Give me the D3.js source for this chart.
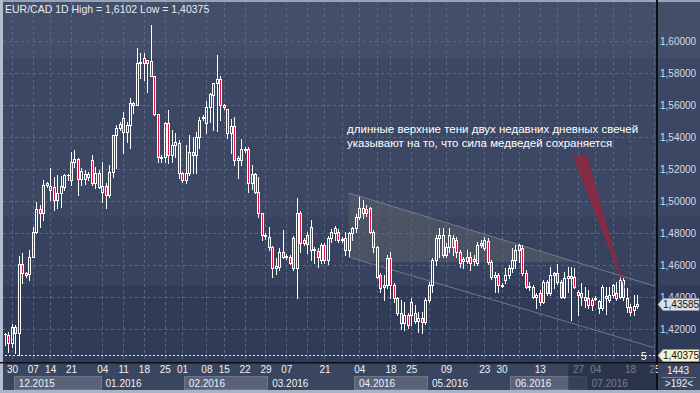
<!DOCTYPE html>
<html><head><meta charset="utf-8">
<script src="https://cdnjs.cloudflare.com/ajax/libs/d3/7.8.5/d3.min.js"></script>
<style>
html,body{margin:0;padding:0;background:#2f3b57;overflow:hidden;}
svg{display:block;}
text{font-family:"Liberation Sans",Arial,sans-serif;}
</style></head><body>
<svg id="chart" width="700" height="393"></svg>
<script>
const chartTitle = "EUR/CAD 1D High = 1,6102 Low = 1,40375";

const openP = [
1.4169,1.4163,1.4113,1.4213,1.4175,1.4606,1.4550,1.4544,1.4650,1.4806,
1.4950,1.4925,1.5113,1.5069,1.5088,1.5006,1.5050,1.5088,1.5163,1.5131,
1.5244,1.5263,1.5138,1.5169,1.5150,1.5256,1.5113,1.5175,1.5056,1.5094,
1.5038,1.5181,1.5413,1.5456,1.5519,1.5431,1.5475,1.5613,1.5600,1.5863,
1.5894,1.5863,1.5875,1.5781,1.5544,1.5269,1.5275,1.5488,1.5288,1.5350,
1.5363,1.5175,1.5131,1.5175,1.5306,1.5288,1.5400,1.5519,1.5488,1.5588,
1.5663,1.5738,1.5763,1.5600,1.5575,1.5425,1.5469,1.5256,1.5256,1.5319,
1.5325,1.5113,1.5169,1.5056,1.4925,1.4781,1.4775,1.4713,1.4581,1.4588,
1.4681,1.4650,1.4650,1.4769,1.4581,1.4925,1.4756,1.4731,1.4838,1.4694,
1.4688,1.4631,1.4725,1.4631,1.4769,1.4800,1.4806,1.4763,1.4769,1.4694,
1.4800,1.4831,1.4900,1.4956,1.4950,1.4956,1.4806,1.4713,1.4538,1.4463,
1.4475,1.4644,1.4475,1.4394,1.4300,1.4238,1.4288,1.4288,1.4300,1.4250,
1.4269,1.4244,1.4381,1.4475,1.4631,1.4769,1.4788,1.4663,1.4713,1.4769,
1.4756,1.4681,1.4625,1.4625,1.4650,1.4625,1.4613,1.4725,1.4706,1.4750,
1.4619,1.4525,1.4538,1.4469,1.4506,1.4538,1.4581,1.4631,1.4694,1.4706,
1.4550,1.4463,1.4463,1.4400,1.4425,1.4369,1.4494,1.4425,1.4538,1.4550,
1.4494,1.4400,1.4519,1.4519,1.4525,1.4431,1.4425,1.4400,1.4394,1.4381,
1.4388,1.4375,1.4331,1.4394,1.4381,1.4413,1.4425,1.4400,1.4506,1.4394,
1.4338,1.4319,1.4344];

const highP = [
1.4175,1.4181,1.4231,1.4225,1.4656,1.4675,1.4556,1.4694,1.4838,1.4994,
1.4975,1.5131,1.5119,1.5206,1.5150,1.5163,1.5156,1.5169,1.5169,1.5306,
1.5319,1.5269,1.5206,1.5194,1.5181,1.5288,1.5213,1.5194,1.5244,1.5113,
1.5225,1.5413,1.5475,1.5494,1.5556,1.5494,1.5644,1.5619,1.5956,1.5925,
1.5925,1.5881,1.6102,1.5781,1.5544,1.5288,1.5494,1.5569,1.5444,1.5425,
1.5381,1.5181,1.5350,1.5413,1.5400,1.5431,1.5525,1.5538,1.5625,1.5675,
1.5738,1.5913,1.5781,1.5606,1.5575,1.5513,1.5525,1.5281,1.5388,1.5338,
1.5338,1.5225,1.5175,1.5150,1.4925,1.4800,1.4838,1.4719,1.4644,1.4706,
1.4819,1.4669,1.4663,1.4781,1.5019,1.4938,1.4769,1.4806,1.4881,1.4713,
1.4706,1.4738,1.4738,1.4781,1.4825,1.4844,1.4825,1.4775,1.4806,1.4806,
1.4838,1.4919,1.5025,1.5006,1.4975,1.4963,1.4819,1.4719,1.4550,1.4538,
1.4663,1.4681,1.4488,1.4400,1.4381,1.4369,1.4300,1.4394,1.4350,1.4306,
1.4306,1.4394,1.4494,1.4644,1.4788,1.4831,1.4831,1.4738,1.4831,1.4788,
1.4775,1.4694,1.4650,1.4694,1.4681,1.4663,1.4744,1.4756,1.4775,1.4769,
1.4631,1.4556,1.4550,1.4488,1.4581,1.4600,1.4706,1.4725,1.4731,1.4725,
1.4569,1.4494,1.4475,1.4425,1.4444,1.4506,1.4506,1.4588,1.4556,1.4606,
1.4506,1.4556,1.4588,1.4588,1.4581,1.4444,1.4488,1.4463,1.4444,1.4394,
1.4406,1.4381,1.4475,1.4463,1.4463,1.4481,1.4494,1.4538,1.4519,1.4456,
1.4356,1.4413,1.4413];

const lowP = [
1.4100,1.4056,1.4088,1.4050,1.40375,1.4488,1.4525,1.4506,1.4650,1.4800,
1.4838,1.4881,1.5088,1.5006,1.4944,1.4956,1.4963,1.5069,1.5131,1.5100,
1.5213,1.5038,1.5100,1.5106,1.5131,1.5100,1.5081,1.5081,1.4994,1.4956,
1.5025,1.5150,1.5206,1.5444,1.5300,1.5369,1.5331,1.5550,1.5600,1.5769,
1.5756,1.5681,1.5781,1.5538,1.5244,1.5244,1.5244,1.5238,1.5244,1.5275,
1.5144,1.5119,1.5113,1.5163,1.5175,1.5175,1.5331,1.5506,1.5425,1.5494,
1.5444,1.5438,1.5506,1.5575,1.5394,1.5300,1.5225,1.5144,1.5225,1.5306,
1.5056,1.5075,1.5050,1.4900,1.4756,1.4763,1.4694,1.4525,1.4544,1.4569,
1.4644,1.4638,1.4606,1.4569,1.4394,1.4681,1.4725,1.4675,1.4631,1.4613,
1.4588,1.4613,1.4613,1.4606,1.4744,1.4756,1.4744,1.4744,1.4663,1.4656,
1.4756,1.4806,1.4888,1.4894,1.4906,1.4800,1.4681,1.4519,1.4431,1.4381,
1.4456,1.4394,1.4369,1.4288,1.4200,1.4194,1.4206,1.4225,1.4238,1.4181,
1.4175,1.4231,1.4369,1.4431,1.4600,1.4650,1.4650,1.4650,1.4681,1.4663,
1.4650,1.4588,1.4581,1.4613,1.4569,1.4600,1.4600,1.4713,1.4694,1.4606,
1.4513,1.4431,1.4431,1.4463,1.4488,1.4519,1.4556,1.4581,1.4619,1.4538,
1.4456,1.4444,1.4394,1.4331,1.4350,1.4363,1.4413,1.4413,1.4456,1.4481,
1.4394,1.4394,1.4431,1.4256,1.4456,1.4288,1.4350,1.4338,1.4331,1.4319,
1.4381,1.4300,1.4319,1.4294,1.4369,1.4400,1.4381,1.4394,1.4381,1.4306,
1.4288,1.4288,1.4331];

const closeP = [
1.4169,1.4113,1.4213,1.4175,1.4606,1.4550,1.4538,1.4650,1.4806,1.4950,
1.4925,1.5100,1.5100,1.5094,1.5006,1.5050,1.5094,1.5163,1.5163,1.5244,
1.5263,1.5138,1.5188,1.5138,1.5169,1.5113,1.5175,1.5088,1.5094,1.5038,
1.5181,1.5413,1.5456,1.5481,1.5431,1.5475,1.5613,1.5600,1.5863,1.5869,
1.5863,1.5881,1.5781,1.5544,1.5275,1.5275,1.5488,1.5288,1.5350,1.5369,
1.5175,1.5131,1.5175,1.5306,1.5288,1.5400,1.5506,1.5525,1.5588,1.5669,
1.5738,1.5763,1.5600,1.5588,1.5425,1.5469,1.5256,1.5269,1.5325,1.5325,
1.5113,1.5169,1.5056,1.4925,1.4788,1.4788,1.4713,1.4581,1.4594,1.4681,
1.4650,1.4656,1.4613,1.4581,1.4925,1.4738,1.4738,1.4788,1.4694,1.4700,
1.4650,1.4725,1.4631,1.4769,1.4806,1.4831,1.4756,1.4756,1.4694,1.4800,
1.4831,1.4900,1.4956,1.4925,1.4925,1.4806,1.4713,1.4525,1.4456,1.4475,
1.4644,1.4475,1.4394,1.4300,1.4238,1.4288,1.4225,1.4369,1.4250,1.4269,
1.4244,1.4381,1.4475,1.4631,1.4769,1.4788,1.4663,1.4713,1.4788,1.4713,
1.4681,1.4613,1.4638,1.4650,1.4613,1.4638,1.4725,1.4738,1.4756,1.4619,
1.4525,1.4538,1.4475,1.4475,1.4538,1.4581,1.4631,1.4694,1.4725,1.4550,
1.4463,1.4469,1.4400,1.4413,1.4369,1.4494,1.4425,1.4538,1.4550,1.4494,
1.4400,1.4519,1.4531,1.4531,1.4463,1.4413,1.4400,1.4381,1.4350,1.4350,
1.4394,1.4331,1.4463,1.4406,1.4413,1.4475,1.4394,1.4506,1.4400,1.4338,
1.4306,1.4344,1.43585];

const priceTicks = [1.42,1.44,1.46,1.48,1.50,1.52,1.54,1.56,1.58,1.60];

const weekTickLabels = ["30","07","14","21","04","11","18","25","01","08","15","22","29","07","21","04","18","25","09","23","30","13","27","04","18","25"];
const weekTickIndex  = [2,8,13,19,28,34,40,46,51,58,63,69,75,81,92,102,111,117,127,138,143,154,165,170,180,187];
const gridOnlyIndex  = [87,97,107,122,133,148,159,175];

const monthLabels = ["12.2015","01.2016","02.2016","03.2016","04.2016","05.2016","06.2016","07.2016"];
const monthStart  = [3,28,52,76,101,122,146,168];
const monthEnd    = 190;
const fadedFromIndex = 162.2;

const lastPrice = 1.43585;
const lowPrice = 1.40375;
const barsCount = "1443";
const barsShown = ">192<";

const channelIndex  = [99, 187];
const channelTop    = [1.5050, 1.4469];
const channelBottom = [1.4650, 1.4083];
const channelFillFloor = 1.4619;

const pointerIndex = [163.5, 167.5, 179];
const pointerPrice = [1.5275, 1.5294, 1.4425];

const noteLines = ["длинные верхние тени двух недавних дневных свечей","указывают на то, что сила медведей сохраняется"];
const noteIndex = 98.5, notePrice = 1.5425;

// ---------------------------------------------------------------
const N = openP.length;
const svg = d3.select("#chart");
const x = d3.scaleLinear().domain([0, N - 1]).range([5, 637]);
const y = d3.scaleLinear().domain([1.40, 1.60]).range([361, 41]);
const PR = 657, PB = 362;

// background bands
[[0,58,"#434f69"],[58,217,"#3b4763"],[217,285,"#36425e"],[285,PB,"#2f3b57"]].forEach(b=>{
  svg.append("rect").attr("x",0).attr("y",b[0]).attr("width",700).attr("height",b[1]-b[0]).attr("fill",b[2]);
});
svg.append("rect").attr("x",0).attr("y",PB).attr("width",700).attr("height",393-PB).attr("fill","#3a4660");

const clip = svg.append("defs").append("clipPath").attr("id","plotclip");
clip.append("rect").attr("x",3).attr("y",2).attr("width",PR-3).attr("height",PB-2);

// grid
const grid = svg.append("g").attr("shape-rendering","crispEdges");
priceTicks.forEach(p=>{
  const yy = Math.round(y(p))+0.5;
  grid.append("line").attr("x1",3).attr("x2",PR).attr("y1",yy).attr("y2",yy)
    .attr("stroke","#5a6682").attr("stroke-dasharray","3,3");
});
weekTickIndex.concat(gridOnlyIndex).forEach(i=>{
  const xx = Math.round(x(i))+0.5;
  if (xx > PR) return;
  grid.append("line").attr("x1",xx).attr("x2",xx).attr("y1",2).attr("y2",PB)
    .attr("stroke","#5a6682").attr("stroke-dasharray","3,3");
});

const plot = svg.append("g").attr("clip-path","url(#plotclip)");

// channel fill (shaded)
const cx0 = x(channelIndex[0]), cx1 = x(channelIndex[1]);
const topAt = xx => y(channelTop[0]) + (y(channelTop[1]) - y(channelTop[0])) * (xx - cx0) / (cx1 - cx0);
const botAt = xx => y(channelBottom[0]) + (y(channelBottom[1]) - y(channelBottom[0])) * (xx - cx0) / (cx1 - cx0);
const floorY = y(channelFillFloor);
const xTopHit = cx0 + (floorY - y(channelTop[0])) * (cx1 - cx0) / (y(channelTop[1]) - y(channelTop[0]));
const xBotHit = cx0 + (floorY - y(channelBottom[0])) * (cx1 - cx0) / (y(channelBottom[1]) - y(channelBottom[0]));
plot.append("polygon")
  .attr("points", [[cx0, topAt(cx0)],[xTopHit, floorY],[Math.max(cx0,xBotHit), floorY],[cx0, botAt(cx0)]].map(p=>p.join(",")).join(" "))
  .attr("fill","#686a6e").attr("fill-opacity",0.42);
[[channelTop],[channelBottom]].forEach(c=>{
  plot.append("line").attr("x1",cx0).attr("y1",y(c[0][0])).attr("x2",cx1).attr("y2",y(c[0][1]))
    .attr("stroke","#8a909c").attr("stroke-width",1).attr("stroke-opacity",0.7);
});

// low dotted line
const lowY = Math.round(y(lowPrice))+0.5;
svg.append("line").attr("x1",5).attr("x2",PR).attr("y1",lowY).attr("y2",lowY)
  .attr("stroke","#e8e8e8").attr("stroke-dasharray","2,2").attr("shape-rendering","crispEdges");

// candles
const cg = plot.append("g").attr("shape-rendering","crispEdges");
for (let i = 0; i < N; i++) {
  const o = openP[i], c = closeP[i], h = highP[i], l = lowP[i];
  const cx = Math.round(x(i));
  const top = Math.round(y(Math.max(o,c)));
  const bot = Math.round(y(Math.min(o,c)));
  const yh = Math.round(y(h)), yl = Math.round(y(l));
  if (yh < top) cg.append("line").attr("x1",cx+0.5).attr("x2",cx+0.5).attr("y1",yh).attr("y2",top).attr("stroke","#ffffff");
  if (yl > bot) cg.append("line").attr("x1",cx+0.5).attr("x2",cx+0.5).attr("y1",bot).attr("y2",yl+1).attr("stroke","#ffffff");
  if (bot - top < 2) {
    cg.append("rect").attr("x",cx-1).attr("y",top).attr("width",3).attr("height",Math.max(1,bot-top+1)).attr("fill","#ffffff");
  } else {
    cg.append("rect").attr("x",cx-0.5).attr("y",top+0.5).attr("width",2).attr("height",bot-top)
      .attr("fill", c < o ? "#e3143c" : "none").attr("stroke","#ffffff").attr("stroke-width",1);
  }
}

// pointer triangle
plot.append("polygon")
  .attr("points", pointerIndex.map((i,k)=>[x(i), y(pointerPrice[k])].join(",")).join(" "))
  .attr("fill","#8a2a42").attr("fill-opacity",0.9);

// annotation text
noteLines.forEach((t,k)=>{
  svg.append("text").attr("x",x(noteIndex)).attr("y",y(notePrice)+k*14)
    .attr("fill","#ffffff").style("font-size","11.5px").text(t);
});

// title
svg.append("text").attr("x",5).attr("y",13).attr("fill","#e8ecf2").style("font-size","10.5px").text(chartTitle);

// borders
svg.append("rect").attr("x",0).attr("y",0).attr("width",700).attr("height",2).attr("fill","#97a4b8");
svg.append("rect").attr("x",0).attr("y",0).attr("width",3).attr("height",393).attr("fill","#b3bfd0");
svg.append("rect").attr("x",0).attr("y",PB).attr("width",700).attr("height",1.5).attr("fill","#0c0f16");
svg.append("rect").attr("x",PR-1).attr("y",0).attr("width",2).attr("height",393).attr("fill","#0c0f16");
svg.append("rect").attr("x",0).attr("y",390).attr("width",700).attr("height",3).attr("fill","#a7b3c6");

// right price axis
const fmt = d => d3.format(".5f")(d).replace(".", ",");
const gY = svg.append("g").attr("transform",`translate(${PR},0)`)
  .call(d3.axisRight(y).tickValues(priceTicks).tickFormat(fmt).tickSize(0).tickPadding(3));
gY.select(".domain").remove();
gY.selectAll("text").attr("fill","#d3dbec").style("font-size","10px").style("font-family","'Liberation Sans',Arial,sans-serif");

// price tags
function tag(p, fill) {
  const yc = Math.round(y(p)) + 0.5;
  svg.append("polygon").attr("points",[[PR+1,yc],[PR+6,yc-6],[699,yc-6],[699,yc+6],[PR+6,yc+6]].map(q=>q.join(",")).join(" "))
    .attr("fill",fill).attr("stroke","#8d96a6").attr("stroke-width",0.8);
  svg.append("text").attr("x",PR+6).attr("y",yc+3.5).attr("fill","#101010").style("font-size","10px").text(fmt(p));
}
tag(lastPrice, "#dde1e7");
tag(lowPrice, "#f6f2cf");
svg.append("text").attr("x",641).attr("y",360).attr("fill","#ffffff").style("font-size","10px").text("5");

// bottom time axis: month boxes
monthLabels.forEach((m,k)=>{
  const x0 = x(monthStart[k]-0.5);
  const x1 = x((k+1<monthStart.length ? monthStart[k+1] : monthEnd)-0.5);
  if (k % 2 === 0) {
    svg.append("rect").attr("x",Math.round(x0)+0.5).attr("y",376.5).attr("width",Math.round(x1-x0)).attr("height",13)
      .attr("fill","#5a6279").attr("stroke","#6b748a").attr("stroke-width",1);
  }
  svg.append("text").attr("x",x0+5).attr("y",387).attr("fill","#eef1f7").style("font-size","10px").text(m);
});
const gX = svg.append("g").attr("transform",`translate(0,${PB})`)
  .call(d3.axisBottom(x).tickValues(weekTickIndex).tickFormat((d,i)=>weekTickLabels[i]).tickSize(0).tickPadding(4));
gX.select(".domain").remove();
gX.selectAll("text").attr("fill","#eef1f7").style("font-size","10px").style("font-family","'Liberation Sans',Arial,sans-serif");

// faded tail of the time axis
svg.append("rect").attr("x",x(fadedFromIndex)).attr("y",PB+1.5).attr("width",PR-1-x(fadedFromIndex)).attr("height",390-PB-1.5)
  .attr("fill","#1f2940").attr("fill-opacity",0.6);

// right-bottom counters
svg.append("rect").attr("x",PR+1).attr("y",PB+1.5).attr("width",700-PR-1).attr("height",390-PB-1.5).attr("fill","#3a4660");
svg.append("text").attr("x",678).attr("y",374).attr("text-anchor","middle").attr("fill","#eef1f7").style("font-size","10px").text(barsCount);
svg.append("line").attr("x1",662).attr("x2",696).attr("y1",377.5).attr("y2",377.5).attr("stroke","#7b859a");
svg.append("text").attr("x",679).attr("y",387).attr("text-anchor","middle").attr("fill","#eef1f7").style("font-size","10px").text(barsShown);
</script>
</body></html>
